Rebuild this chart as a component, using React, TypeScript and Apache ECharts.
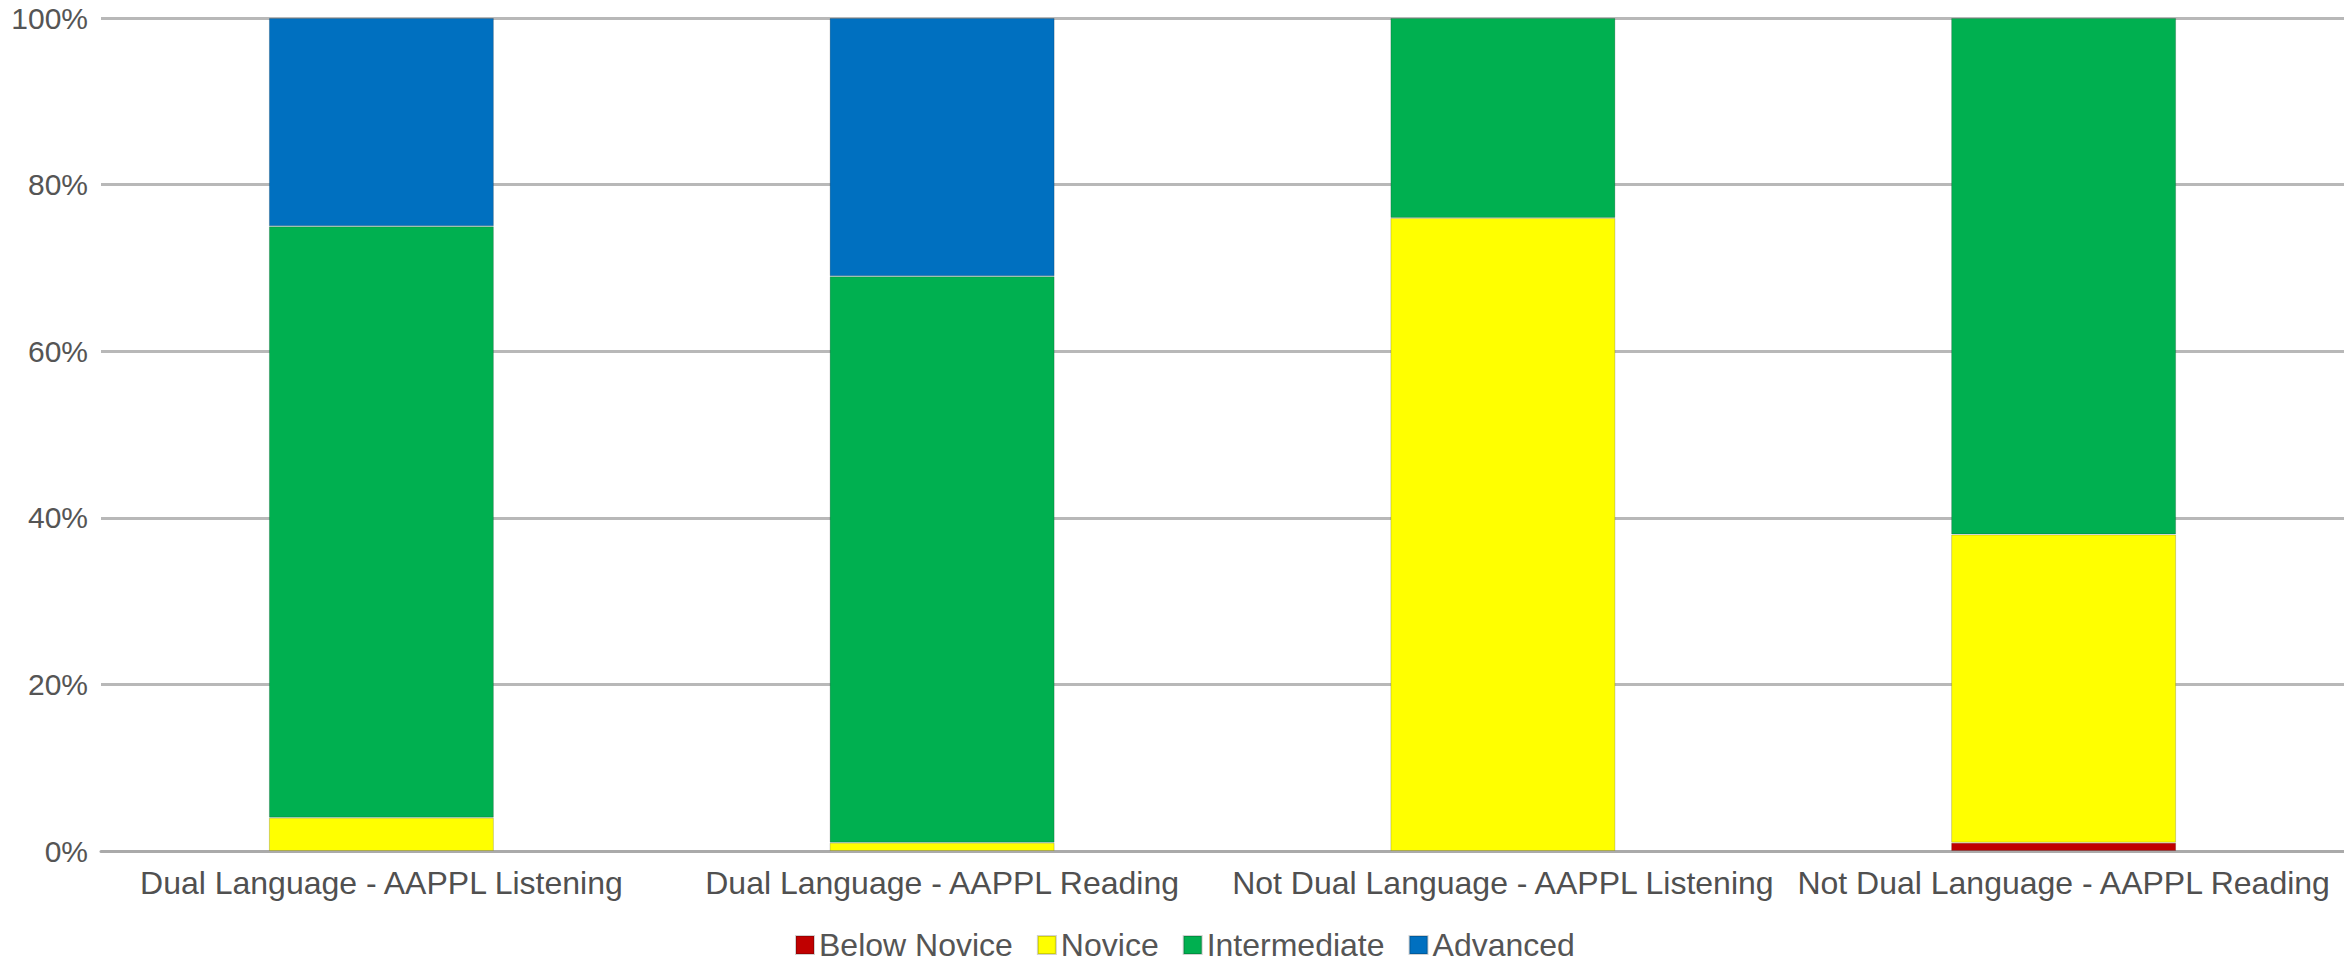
import React, { useEffect, useRef } from "react";
import * as echarts from "echarts";

const categories = [
  "Dual Language - AAPPL Listening",
  "Dual Language - AAPPL Reading",
  "Not Dual Language - AAPPL Listening",
  "Not Dual Language - AAPPL Reading",
];
const belowNovice = [0, 0, 0, 1];
const novice = [4, 1, 76, 37];
const intermediate = [71, 68, 24, 62];
const advanced = [25, 31, 0, 0];

const seriesNames = ["Below Novice", "Novice", "Intermediate", "Advanced"];
const seriesColors = ["#c00000", "#ffff00", "#00b050", "#0070c0"];
const yTicks = [0, 20, 40, 60, 80, 100];

const FONT = "'Liberation Sans', Arial, sans-serif";

export default function App() {
  const ref = useRef<HTMLDivElement>(null);
  useEffect(() => {
    document.body.style.margin = "0";
    const chart = echarts.init(ref.current!, undefined, { renderer: "svg" });
    const allData = [belowNovice, novice, intermediate, advanced];
    chart.setOption({
      animation: false,
      backgroundColor: "#ffffff",
      textStyle: { fontFamily: FONT },
      grid: { left: 101, right: 0, top: 18, bottom: 115, containLabel: false },
      legend: {
        left: 795,
        top: 928,
        padding: 0,
        itemWidth: 18,
        itemHeight: 18,
        itemGap: 24,
        icon: "rect",
        textStyle: { fontSize: 32, lineHeight: 34, color: "#555", fontFamily: FONT },
        data: seriesNames,
      },
      xAxis: {
        type: "category",
        data: categories,
        axisLine: { show: true, lineStyle: { color: "#aaaaaa", width: 3 } },
        axisTick: { show: false },
        axisLabel: { fontSize: 32, color: "#505050", margin: 16, fontFamily: FONT, interval: 0 },
      },
      yAxis: {
        type: "value",
        min: yTicks[0],
        max: yTicks[yTicks.length - 1],
        interval: 20,
        axisLine: { show: false },
        axisTick: { show: false },
        axisLabel: {
          formatter: "{value}%",
          fontSize: 30,
          color: "#555",
          margin: 13,
          fontFamily: FONT,
        },
        splitLine: { lineStyle: { color: "#b8b8b8", width: 3 } },
      },
      series: seriesNames.map((name, i) => ({
        name,
        type: "bar",
        stack: "total",
        barWidth: 225,
        itemStyle: {
          color: seriesColors[i],
          borderColor: "rgba(0,0,0,0.18)",
          borderWidth: 1,
        },
        data: allData[i].map((v) => (v === 0 ? null : v)),
      })),
    });
    return () => chart.dispose();
  }, []);
  return (
    <div
      ref={ref}
      style={{ position: "absolute", left: 0, top: 0, width: 2344, height: 966 }}
    />
  );
}
